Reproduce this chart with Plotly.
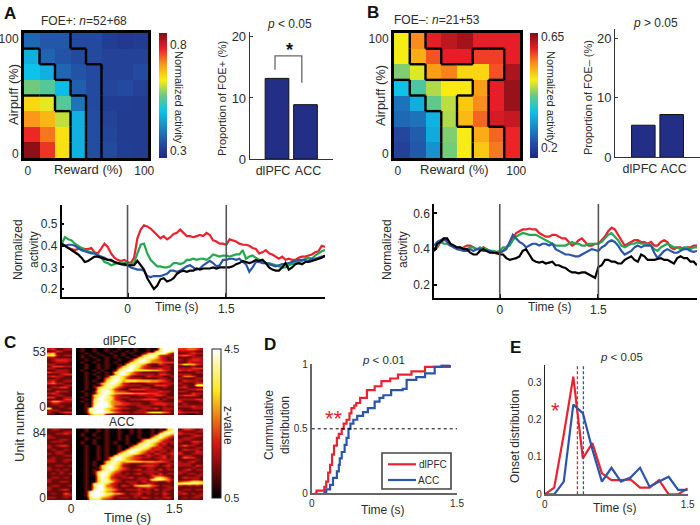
import plotly.graph_objects as go

# ---------- DATA ----------
# Panel A heatmap, rows listed from airpuff 100 (top) to 0 (bottom)
heat_a = [
    [.37, .35, .35, .33, .33, .31, .30, .305],
    [.465, .365, .345, .33, .33, .317, .317, .317],
    [.49, .465, .37, .345, .33, .317, .317, .33],
    [.565, .547, .477, .36, .33, .323, .33, .317],
    [.654, .624, .547, .388, .33, .31, .31, .305],
    [.707, .683, .606, .465, .335, .317, .305, .305],
    [.777, .73, .648, .465, .335, .323, .305, .305],
    [.848, .77, .648, .465, .335, .33, .31, .305],
]
regions_a = [
    [1, 1, 1, 0, 0, 0, 0, 0],
    [2, 1, 1, 1, 0, 0, 0, 0],
    [2, 2, 1, 1, 1, 0, 0, 0],
    [2, 2, 2, 1, 1, 0, 0, 0],
    [3, 3, 2, 2, 1, 0, 0, 0],
    [3, 3, 3, 2, 1, 0, 0, 0],
    [3, 3, 3, 2, 1, 0, 0, 0],
    [3, 3, 3, 2, 1, 0, 0, 0],
]
heat_b = [
    [.474, .545, .605, .63, .646, .605, .605, .605],
    [.474, .524, .575, .605, .605, .585, .585, .605],
    [.423, .464, .534, .55, .494, .494, .575, .64],
    [.352, .393, .443, .479, .479, .534, .605, .651],
    [.261, .327, .408, .448, .504, .545, .605, .651],
    [.251, .261, .332, .443, .514, .565, .615, .625],
    [.21, .236, .322, .423, .474, .524, .565, .6],
    [.2, .231, .297, .418, .474, .504, .555, .6],
]
regions_b = [
    [1, 2, 3, 3, 3, 3, 3, 3],
    [1, 2, 2, 3, 3, 2, 2, 3],
    [1, 1, 2, 2, 2, 2, 2, 3],
    [0, 1, 1, 1, 1, 2, 3, 3],
    [0, 0, 1, 1, 2, 2, 3, 3],
    [0, 0, 0, 1, 2, 2, 3, 3],
    [0, 0, 0, 1, 1, 2, 2, 3],
    [0, 0, 0, 1, 1, 2, 2, 3],
]
bar_labels = ["dlPFC", "ACC"]
bars_a = [13.2, 8.9]
bars_b = [5.4, 7.2]
bracket_x = [-.07, -.07, .87, .87]
bracket_y = [14.6, 16.9, 16.9, 12.5]

time_s = [i / 20 - 1 for i in range(81)]
a_red = [.41,.40,.39,.385,.38,.385,.39,.385,.385,.39,
         .37,.365,.39,.41,.395,.365,.345,.335,.33,.335,
         .325,.32,.345,.435,.475,.495,.49,.48,.465,.45,
         .435,.445,.43,.44,.455,.46,.475,.46,.445,.445,
         .44,.445,.45,.445,.46,.45,.425,.42,.41,.41,
         .405,.43,.425,.42,.41,.405,.405,.40,.39,.385,
         .365,.37,.38,.365,.36,.35,.34,.35,.335,.34,
         .335,.335,.345,.35,.35,.355,.36,.37,.375,.40,.395]
a_green = [.41,.44,.43,.425,.41,.40,.39,.38,.375,.37,
           .365,.36,.345,.325,.32,.31,.315,.32,.325,.32,
           .32,.315,.32,.365,.405,.41,.365,.335,.32,.305,
           .305,.30,.30,.305,.32,.32,.315,.32,.335,.335,
           .34,.335,.34,.34,.335,.345,.36,.355,.35,.355,
           .355,.35,.355,.36,.36,.38,.34,.35,.355,.345,
           .335,.33,.32,.32,.315,.31,.305,.30,.30,.31,
           .315,.32,.325,.33,.34,.345,.34,.355,.365,.375,.38]
a_blue = [.405,.40,.405,.405,.40,.39,.38,.375,.37,.365,
          .365,.355,.35,.345,.335,.33,.325,.32,.315,.31,
          .31,.30,.295,.29,.29,.285,.26,.255,.26,.26,
          .26,.265,.27,.285,.285,.28,.285,.295,.305,.31,
          .30,.29,.295,.31,.32,.33,.32,.305,.31,.335,
          .335,.34,.34,.335,.34,.325,.315,.28,.30,.325,
          .325,.32,.32,.315,.31,.305,.31,.315,.315,.32,
          .325,.33,.335,.335,.335,.33,.34,.34,.345,.35,.35]
a_black = [.41,.40,.39,.38,.37,.36,.345,.325,.33,.34,
           .35,.35,.345,.34,.335,.335,.325,.32,.315,.315,
           .31,.31,.31,.33,.31,.29,.25,.225,.20,.215,
           .245,.25,.235,.24,.25,.27,.28,.285,.28,.285,
           .285,.295,.29,.295,.295,.295,.30,.295,.30,.30,
           .30,.30,.305,.315,.32,.33,.325,.32,.325,.335,
           .33,.335,.32,.30,.29,.285,.285,.30,.32,.29,
           .30,.315,.32,.315,.325,.325,.33,.335,.34,.345,.355]
b_red = [.39,.41,.44,.45,.45,.43,.41,.405,.40,.41,
         .42,.42,.41,.40,.40,.41,.40,.39,.385,.375,
         .38,.39,.41,.43,.46,.49,.50,.51,.51,.515,
         .51,.51,.49,.48,.47,.47,.48,.48,.47,.46,
         .46,.44,.42,.43,.45,.46,.44,.42,.42,.43,
         .43,.45,.47,.50,.52,.51,.48,.45,.42,.43,
         .44,.45,.45,.44,.44,.43,.44,.42,.42,.44,
         .45,.44,.41,.40,.41,.41,.40,.41,.41,.42,.42]
b_green = [.39,.42,.44,.43,.43,.42,.42,.41,.41,.40,
           .40,.41,.41,.40,.41,.40,.40,.39,.39,.385,
           .39,.41,.41,.42,.45,.47,.48,.49,.485,.48,
           .48,.48,.47,.46,.45,.44,.43,.42,.42,.42,
           .42,.43,.44,.43,.43,.42,.42,.43,.43,.43,
           .43,.44,.46,.48,.49,.47,.45,.42,.41,.42,
           .43,.43,.44,.43,.43,.43,.42,.40,.39,.41,
           .42,.43,.42,.41,.41,.40,.41,.41,.40,.41,.41]
b_blue = [.42,.44,.45,.46,.44,.42,.41,.40,.395,.39,
          .39,.40,.39,.40,.40,.39,.39,.39,.38,.38,
          .38,.39,.40,.44,.48,.46,.44,.43,.41,.42,
          .43,.43,.42,.43,.43,.42,.43,.40,.39,.38,
          .37,.37,.365,.36,.36,.37,.38,.39,.40,.395,
          .39,.41,.42,.44,.45,.44,.42,.39,.37,.38,
          .39,.41,.42,.41,.42,.42,.42,.38,.35,.37,
          .39,.40,.39,.38,.38,.39,.40,.40,.39,.385,.39]
b_black = [.39,.43,.44,.46,.46,.43,.42,.41,.41,.40,
           .40,.38,.37,.37,.39,.40,.39,.38,.38,.38,
           .37,.37,.35,.34,.345,.35,.36,.39,.40,.37,
           .34,.33,.325,.33,.32,.325,.33,.31,.31,.30,
           .295,.28,.27,.27,.265,.27,.27,.26,.25,.24,
           .30,.31,.34,.34,.33,.33,.32,.32,.34,.35,
           .36,.34,.33,.37,.36,.34,.34,.34,.345,.35,
           .34,.34,.33,.32,.35,.36,.35,.35,.33,.33,.31]

# Panel C rasters, read by eye: one digit per cell (0 darkest, 9 brightest).
# First group = before 0 s, last group = after 1.5 s, the groups between = the task period.
raster_dlpfc = [
    "231122 01001001001000100100 7999 334432",
    "113211 0100100101001010010 67997 222211",
    "561111 00100100100101001 5789942 112322",
    "672122 0101001001010010 68973221 343211",
    "221111 010010010100100 578863212 111222",
    "123332 00100101001001 6897543211 212332",
    "112221 0100100101001 67886 444333 113222",
    "221111 001001010010 68875 2113211 365532",
    "133322 00100101001 57986 32111221 111211",
    "221111 0010010100 47897 532223221 222333",
    "112221 0100101001 78996 666554321 323221",
    "322221 001001010 68975 3211112211 111122",
    "111233 001010010 5897 43222213321 222111",
    "232211 00100101 68864 21113222112 144311",
    "112111 0010010 47886 322211112211 211122",
    "231122 0010100 68985 777666554321 132221",
    "342211 001001 57986 3211112221222 211133",
    "111122 001010 48875 3222211133321 121188",
    "122331 00101 57885 32111122111211 231111",
    "211111 00100 68863 21133332221111 112233",
    "113221 01001 78974 33211112223221 221111",
    "232111 00101 68975 55554443332211 111322",
    "112211 0010 67985 321111222233211 233321",
    "331122 0100 58986 322211112211122 111111",
    "111133 0010 69976 321122233331211 222233",
    "255322 0100 78985 432111111222111 311112",
    "122111 0010 79995 443322211233322 121111",
    "111211 0010 89996 322111222111211 222322",
    "711112 001 79996 5432211122231222 111222",
    "222111 001 88997 4321111221111221 211111",
    "211233 001 79998 6432212225666431 322221",
    "110011 000 47772 1111111111111111 110011",
]
raster_acc = [
    "122111 0010010100100101001010 67 133212",
    "111122 001001010010010100101 688 211122",
    "112232 01001001001001010010 7886 322211",
    "211111 0100100100101001001 68753 111232",
    "221111 001001010010100100 578532 122211",
    "111221 0010100100101000 47885321 222111",
    "122211 0100100101001001 68864222 211332",
    "111111 010010010100100 688642312 111221",
    "212331 00100101001001 5788642211 242211",
    "211111 0010010100100 57886 323121 111122",
    "121121 001001010010 58986 4232212 132221",
    "112211 00100101001 58986 42312212 211132",
    "212211 0010010100 67887 532132123 311222",
    "111122 001001010 6887 53213212312 122111",
    "121111 00100101 69975 43322122312 143311",
    "221122 00100101 6997 543211112222 111121",
    "221121 0010100 68865 666655544321 212311",
    "111111 0010100 6886 3211112221122 222111",
    "112212 001010 68975 2111233321231 222132",
    "211111 001001 6897 53211112211121 111211",
    "212121 001010 5896 43212312213122 123122",
    "111211 00101 6896 431111122221111 221111",
    "121212 00101 7985 321212312213122 212212",
    "111111 00100 7984 222111111333211 111122",
    "122121 00100 6973 212231221267531 132221",
    "211111 00100 6884 321111222788642 111221",
    "211221 00100 6886 321222131221131 345776",
    "111111 0010 7886 3211122113211111 888776",
    "122112 0010 7994 3213215676431221 212121",
    "211111 0010 6995 4211111223211122 111111",
    "211231 0010 8996 5421222312131221 122122",
    "111111 001 8998 54211111222111211 211111",
    "121142 001 8999 77553122312121321 231212",
    "111122 001 9998 64211112211111211 111122",
    "221121 000 7885 43122212132121231 121221",
    "111111 000 6774 32111111111112111 111111",
]

# Panel D cumulative onset distributions
cum_t_red = [.03,.05,.11,.13,.15,.17,.19,.21,.23,.26,.28,.31,.33,.36,.39,.41,.44,.46,.5,.57,.62,.65,.72,.81,.89,1.03,1.17,1.3,1.425]
cum_y_red = [0,.02,.02,.05,.09,.16,.22,.3,.37,.43,.46,.5,.54,.57,.62,.66,.68,.70,.74,.8,.8,.83,.87,.89,.92,.945,.98,.98,.995]
cum_t_blue = [.12,.15,.19,.22,.26,.28,.29,.31,.34,.36,.38,.4,.43,.47,.53,.58,.65,.7,.74,.82,.94,.98,1.08,1.17,1.27,1.34,1.425]
cum_y_blue = [.005,.03,.065,.12,.17,.22,.27,.32,.375,.43,.50,.54,.57,.6,.63,.66,.71,.74,.76,.80,.81,.88,.90,.93,.98,.99,.995]

# Panel E onset histograms
onset_t = [0, .1, .2, .3, .4, .5, .6, .7, .8, .9, 1.0, 1.1, 1.2, 1.3, 1.4, 1.5]
onset_red = [0, .018, .16, .315, .096, .137, .056, .038, .038, .04, .018, .018, .038, 0, 0, .016]
onset_blue = [0, 0, .034, .24, .217, .12, .034, .071, .034, .045, .071, .02, .034, .047, .012, .012]
median_red = .343
median_blue = .406

# ---------- STYLE ----------
W, H = 700, 525
FONT = "Liberation Sans"
INK = "#2b2b2b"
RED, GREEN, BLUE = "#e8232f", "#22a84f", "#2a55a8"
NAVY = "#232f86"
JET = [[0, "rgb(32,38,125)"], [.125, "rgb(36,80,165)"], [.375, "rgb(12,195,235)"],
       [.5, "rgb(105,200,130)"], [.625, "rgb(250,238,15)"], [.75, "rgb(250,150,25)"],
       [.875, "rgb(235,30,40)"], [1, "rgb(128,14,22)"]]
HOT = [[0, "rgb(0,0,0)"], [.37, "rgb(222,20,20)"], [.72, "rgb(250,232,25)"], [1, "rgb(255,255,255)"]]

def xd(a, b):
    return [a / W, b / W]

def yd(top, bot):
    return [1 - bot / H, 1 - top / H]

fig = go.Figure()
layout = {}
notes = []
shapes = []

def note(x, y, text, size=12, angle=0, color=INK):
    notes.append(dict(x=x / W, y=1 - y / H, xref="paper", yref="paper", text=text, showarrow=False,
                      textangle=angle, xanchor="center", yanchor="middle",
                      font=dict(family=FONT, size=size, color=color)))

def axes(n, xdom, ydom, xrange, yrange, xopt=None, yopt=None):
    s = "" if n == 1 else str(n)
    base = dict(showgrid=False, zeroline=False, tickfont=dict(family=FONT, size=12, color=INK))
    layout["xaxis" + s] = {**base, "domain": xdom, "range": xrange, "anchor": "y" + s, **(xopt or {})}
    layout["yaxis" + s] = {**base, "domain": ydom, "range": yrange, "anchor": "x" + s, **(yopt or {})}
    return dict(xaxis="x" + s, yaxis="y" + s)

def region_edges(regions):
    xs, ys = [], []
    size = 12.5
    n = len(regions)
    for r in range(n):
        for c in range(n):
            x0, x1 = c * size, (c + 1) * size
            ytop, ybot = 100 - r * size, 100 - (r + 1) * size
            if c + 1 < n and regions[r][c] != regions[r][c + 1]:
                xs += [x1, x1, None]
                ys += [ytop, ybot, None]
            if r + 1 < n and regions[r][c] != regions[r + 1][c]:
                xs += [x0, x1, None]
                ys += [ybot, ybot, None]
    return xs, ys

def heat_panel(n, xdom, ydom, z, regions, zmin, zmax, tickvals, ticktext, cbx):
    frame = dict(showline=True, mirror=True, linecolor="black", linewidth=3, ticks="")
    ref = axes(n, xdom, ydom, [0, 100], [0, 100],
               {**frame, "tickvals": [3, 97], "ticktext": ["0", "100"], "tickfont": dict(family=FONT, size=12, color=INK)},
               {**frame, "tickvals": [3, 95], "ticktext": ["0", "100"], "tickfont": dict(family=FONT, size=12, color=INK)})
    fig.add_trace(go.Heatmap(z=z[::-1], x0=6.25, dx=12.5, y0=6.25, dy=12.5, zmin=zmin, zmax=zmax,
                             colorscale=JET, hoverinfo="skip",
                             colorbar=dict(x=cbx, xanchor="left", xpad=0, ypad=0, thickness=8,
                                           thicknessmode="pixels", y=ydom[0], yanchor="bottom",
                                           len=ydom[1] - ydom[0], lenmode="fraction", outlinewidth=0,
                                           tickvals=tickvals, ticktext=ticktext, ticks="",
                                           tickfont=dict(family=FONT, size=12, color=INK)),
                             **ref))
    ex, ey = region_edges(regions)
    fig.add_trace(go.Scatter(x=ex, y=ey, mode="lines", line=dict(color="black", width=2.4),
                             showlegend=False, hoverinfo="skip", **ref))

def bar_panel(n, xdom, ydom, xrange, yrange, values, label_pos):
    ref = axes(n, xdom, ydom, xrange, yrange,
               {"tickvals": label_pos, "ticktext": bar_labels, "showline": True, "linecolor": "#333", "linewidth": 1,
                "ticks": "", "tickangle": 0, "tickfont": dict(family=FONT, size=12.5, color=INK)},
               {"tickvals": [0, 10, 20], "showline": True, "linecolor": "#333", "linewidth": 1, "ticks": "inside",
                "ticklen": 3, "tickcolor": "#333", "tickfont": dict(family=FONT, size=13, color=INK)})
    fig.add_trace(go.Bar(x=[0, 1], y=values, width=.83, marker=dict(color=NAVY, line=dict(color="#111", width=1)),
                         showlegend=False, hoverinfo="skip", **ref))
    return ref

def line_panel(n, xdom, ydom, yrange, yticks, series):
    s = "" if n == 1 else str(n)
    ref = axes(n, xdom, ydom, [-1, 3], yrange,
               {"tickvals": [-1, 0, 1.5, 3], "ticktext": ["", "0", "1.5", ""], "ticks": "inside", "ticklen": 4,
                "tickcolor": "black", "tickwidth": 1.5, "showline": True, "linecolor": "black", "linewidth": 1.5},
               {"tickvals": yticks, "tickformat": ".1f", "ticks": "inside", "ticklen": 3, "tickcolor": "black",
                "tickwidth": 1.5, "showline": True, "linecolor": "black", "linewidth": 1.5})
    for t in (0, 1.5):
        shapes.append(dict(type="line", xref="x" + s, yref="y" + s + " domain", x0=t, x1=t, y0=0, y1=1,
                           line=dict(color="#555", width=1.6)))
    for values, colour in series:
        fig.add_trace(go.Scatter(x=time_s, y=values, mode="lines", line=dict(color=colour, width=2.2),
                                 showlegend=False, hoverinfo="skip", **ref))

def raster_cells(row):
    parts = row.split()
    pre = parts[0].ljust(6, "1")[:6]
    main = "".join(parts[1:-1]).ljust(24, "1")[:24]
    post = parts[-1].ljust(6, "1")[:6]
    value = lambda ch: .5 + 4 * (int(ch) / 9) ** .8
    return [value(c) for c in pre] + [None] + [value(c) for c in main] + [None] + [value(c) for c in post]

def raster_panel(n, xdom, ydom, rows, yrange, ytick, xopt):
    z = [raster_cells(row) for row in rows[::-1]]
    nrows = len(rows)
    dy = (yrange[1] - yrange[0]) / nrows
    dt = .0597
    ref = axes(n, xdom, ydom, [-.35, -.35 + 38 * dt], yrange, xopt,
               {"tickvals": [0, ytick], "ticks": ""})
    fig.add_trace(go.Heatmap(z=z, x0=-.35 + dt / 2, dx=dt, y0=yrange[0] + dy / 2, dy=dy, zmin=.5, zmax=4.5,
                             colorscale=HOT, showscale=n == 8, hoverongaps=False, hoverinfo="skip", zsmooth="best",
                             colorbar=dict(x=212 / W, xanchor="left", xpad=0, ypad=0, thickness=9,
                                           thicknessmode="pixels", y=1 - 498 / H, yanchor="bottom",
                                           len=149 / H, lenmode="fraction", outlinecolor="#222", outlinewidth=1,
                                           tickvals=[.5, 4.5], ticktext=["0.5", "4.5"], ticks="",
                                           tickfont=dict(family=FONT, size=11, color=INK)),
                             **ref))

# ---------- PANELS ----------
heat_panel(1, xd(24, 148), yd(33, 158), heat_a, regions_a, .267, .857, [.3, .8], ["0.3", "0.8"], 159 / W)
ref = bar_panel(2, xd(249.7, 333), yd(32, 159), [-.958, 1.965], [0, 20.8], bars_a, [-.14, 1.09])
fig.add_trace(go.Scatter(x=bracket_x, y=bracket_y, mode="lines", line=dict(color="#666", width=1.3),
                         showlegend=False, hoverinfo="skip", **ref))
heat_panel(3, xd(394, 520), yd(33, 158), heat_b, regions_b, .16, .666, [.2, .65], ["0.2", "0.65"], 530 / W)
bar_panel(4, xd(615, 700), yd(29, 157.3), [-1, 2], [0, 21.6], bars_b, [-.12, 1.07])
line_panel(5, xd(61.7, 325), yd(205, 297), [.163, .589], [.2, .3, .4, .5],
           [(a_red, RED), (a_green, GREEN), (a_blue, BLUE), (a_black, "black")])
line_panel(6, xd(434, 697), yd(204, 297.7), [.129, .652], [.2, .4, .6],
           [(b_red, RED), (b_green, GREEN), (b_blue, BLUE), (b_black, "black")])
raster_panel(7, xd(47, 203), yd(348, 415), raster_dlpfc, [-8, 57], 53, {"showticklabels": False, "ticks": ""})
raster_panel(8, xd(47, 203), yd(428.3, 500), raster_acc, [-3, 90], 84, {"tickvals": [0, 1.5], "ticktext": ["0", "1.5"], "ticks": ""})

small = dict(family=FONT, size=10, color=INK)
ref = axes(9, xd(311.7, 457), yd(364.3, 493.3), [0, 1.5], [0, 1],
           {"tickvals": [0, 1.5], "ticktext": ["0", "1.5"], "tickfont": small, "showline": True,
            "linecolor": "#666", "linewidth": 2, "ticks": ""},
           {"tickvals": [0, .5, 1], "ticktext": ["0", "0.5", "1"], "tickfont": small, "showline": True,
            "linecolor": "#666", "linewidth": 2, "ticks": ""})
shapes.append(dict(type="line", xref="x9", yref="y9", x0=0, x1=1.5, y0=.5, y1=.5,
                   line=dict(color="black", width=1, dash="3px,3px")))
fig.add_trace(go.Scatter(x=cum_t_red, y=cum_y_red, mode="lines", name="dlPFC", showlegend=False, line=dict(color=RED, width=2.2, shape="hv"), hoverinfo="skip", **ref))
fig.add_trace(go.Scatter(x=cum_t_blue, y=cum_y_blue, mode="lines", name="ACC", showlegend=False, line=dict(color=BLUE, width=2.2, shape="hv"), hoverinfo="skip", **ref))

ref = axes(10, xd(544.7, 687.7), yd(365, 494.3), [0, 1.5], [0, .346],
           {"tickvals": [0, 1.5], "ticktext": ["0", "1.5"], "tickfont": small, "showline": True,
            "linecolor": "#666", "linewidth": 2, "ticks": ""},
           {"tickvals": [0, .1, .2, .3], "ticktext": ["0", "0.1", "0.2", "0.3"], "tickfont": small, "showline": True,
            "linecolor": "#222", "linewidth": 1, "ticks": ""})
for m, colour in ((median_red, RED), (median_blue, BLUE)):
    shapes.append(dict(type="line", xref="x10", yref="y10 domain", x0=m, x1=m, y0=0, y1=1,
                       line=dict(color=colour, width=1.3, dash="3px,2px")))
fig.add_trace(go.Scatter(x=onset_t, y=onset_red, mode="lines", line=dict(color=RED, width=2.2), showlegend=False, hoverinfo="skip", **ref))
fig.add_trace(go.Scatter(x=onset_t, y=onset_blue, mode="lines", line=dict(color=BLUE, width=2.2), showlegend=False, hoverinfo="skip", **ref))

# Legend key of panel D
shapes.append(dict(type="rect", xref="paper", yref="paper", x0=382 / W, x1=451 / W, y0=1 - 489 / H, y1=1 - 453 / H,
                   line=dict(color="#444", width=1.6), fillcolor="white", layer="above"))
shapes.append(dict(type="line", xref="paper", yref="paper", x0=388 / W, x1=416 / W, y0=1 - 464.3 / H, y1=1 - 464.3 / H,
                   line=dict(color=RED, width=2.2), layer="above"))
shapes.append(dict(type="line", xref="paper", yref="paper", x0=388 / W, x1=416 / W, y0=1 - 480 / H, y1=1 - 480 / H,
                   line=dict(color=BLUE, width=2.2), layer="above"))

# ---------- TEXT ----------
for x, y, t in ((10, 13, "A"), (373, 12, "B"), (10, 342, "C"), (270, 344, "D"), (515, 347, "E")):
    note(x, y, "<b>" + t + "</b>", size=17, color="#111")
note(84, 21, "FOE+: <i>n</i>=52+68", 12)
note(437, 20, "FOE–: <i>n</i>=21+53", 12)
note(289, 24, "<i>p</i> &lt; 0.05", 12)
note(655, 23, "<i>p</i> &gt; 0.05", 12)
note(13, 95, "Airpuff (%)", 13, -90)
note(88, 169, "Reward (%)", 13)
note(380, 95, "Airpuff (%)", 13, -90)
note(454, 169, "Reward (%)", 13)
note(179, 97, "Normalized activity", 11, 90)
note(551, 97, "Normalized activity", 11, 90)
note(222, 98, "Proportion of FOE+ (%)", 11, -90)
note(588, 98, "Proportion of FOE– (%)", 11, -90)
note(289, 50, "<b>*</b>", 18, color="#111")
note(26, 250, "Normalized<br>activity", 12, -90)
note(395, 250, "Normalized<br>activity", 12, -90)
note(177, 307, "Time (s)", 12)
note(550, 307, "Time (s)", 12)
note(120, 341, "dlPFC", 12)
note(122, 422, "ACC", 12)
note(19, 427, "Unit number", 13, -90)
note(127, 517, "Time (s)", 13)
note(228, 425, "z-value", 12, 90)
note(383, 360, "<i>p</i> &lt; 0.01", 11.5)
note(383, 510, "Time (s)", 12)
note(277, 425, "Cummulative<br>distribution", 12, -90)
note(334, 418, "**", 22, color=RED)
note(621, 357, "<i>p</i> &lt; 0.05", 11.5)
note(615, 508, "Time (s)", 12)
note(515, 437, "Onset distribution", 12, -90)
note(555, 410, "*", 22, color=RED)
note(432.7, 464.3, "dlPFC", 10)
note(428, 480, "ACC", 10)

fig.update_layout(
    width=W, height=H, autosize=False, margin=dict(l=0, r=0, t=0, b=0, autoexpand=False),
    paper_bgcolor="white", plot_bgcolor="white", annotations=notes, shapes=shapes,
    showlegend=False,
    **layout,
)
fig.write_html("out.html", config={"displayModeBar": False},
               post_script="document.body.style.margin='0';document.body.style.overflow='hidden';")
